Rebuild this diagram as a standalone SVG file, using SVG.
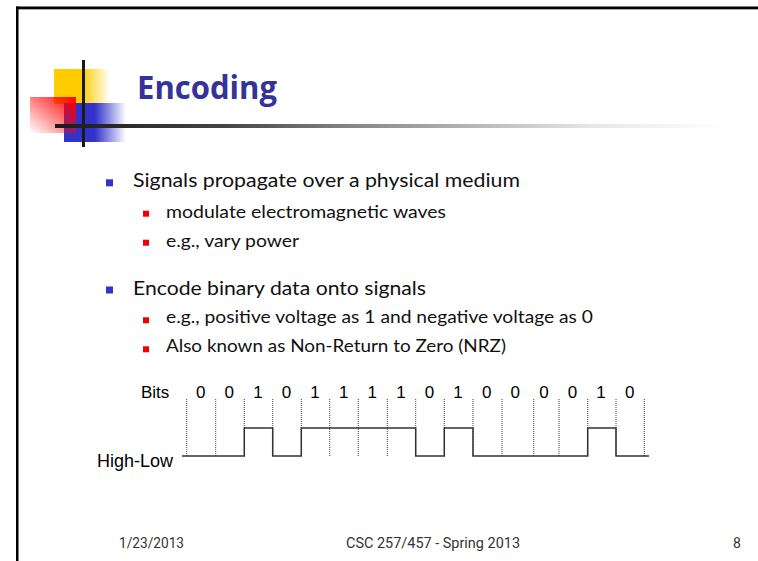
<svg xmlns="http://www.w3.org/2000/svg" width="758" height="561" viewBox="0 0 758 561">
<style>
.body{font-family:Lato,"Open Sans","Noto Sans",sans-serif;fill:#111;}
.b1{font-size:18.5px;}
.b2{font-size:16.8px;}
.foot{font-family:Roboto,"Liberation Sans",sans-serif;font-size:14px;fill:#333;}
.arial{font-family:"Liberation Sans",Arial,sans-serif;fill:#000;}
.dot{stroke:#444;stroke-width:1;stroke-dasharray:1,1;fill:none;}
.wave{stroke:#333;stroke-width:1.5;fill:none;}
.bb{fill:#3333CC;}
.rb{fill:#EE0000;}
</style>
<defs>
<linearGradient id="gY" x1="0" y1="0" x2="1" y2="0">
<stop offset="0" stop-color="#FFCC00"/>
<stop offset="0.5" stop-color="#FFCC00"/>
<stop offset="1" stop-color="#FFCC00" stop-opacity="0"/>
</linearGradient>
<linearGradient id="gB" x1="0" y1="0" x2="1" y2="0">
<stop offset="0" stop-color="#3333CC"/>
<stop offset="0.5" stop-color="#3333CC"/>
<stop offset="1" stop-color="#3333CC" stop-opacity="0"/>
</linearGradient>
<linearGradient id="gR" x1="1" y1="0" x2="0" y2="1">
<stop offset="0" stop-color="#FF0000"/>
<stop offset="1" stop-color="#FF0000" stop-opacity="0"/>
</linearGradient>
<linearGradient id="gL" gradientUnits="userSpaceOnUse" x1="55" y1="0" x2="725" y2="0">
<stop offset="0" stop-color="#1a1a1a"/>
<stop offset="0.25" stop-color="#444"/>
<stop offset="0.45" stop-color="#888"/>
<stop offset="0.8" stop-color="#e6e6e6"/>
<stop offset="1" stop-color="#ffffff"/>
</linearGradient>
</defs>
<rect width="758" height="561" fill="#fff"/>
<g id="border">
<rect x="16" y="6.5" width="742" height="2.5" fill="#000"/>
<rect x="18" y="9" width="740" height="1" fill="#aaa"/>
<rect x="16" y="6.5" width="2.5" height="555" fill="#000"/>
</g>
<g id="logo">
<rect x="54" y="69" width="56" height="35" fill="url(#gY)"/>
<rect x="64" y="103" width="62" height="39" fill="url(#gB)"/>
<rect x="30" y="97" width="46" height="36" fill="url(#gR)"/>
<rect x="82" y="60" width="3" height="87" fill="#1a1a1a"/>
<rect x="55" y="124" width="670" height="4" fill="url(#gL)"/>
</g>
<g id="title">
<text x="137" y="99" font-family="'Open Sans','Noto Sans',sans-serif" font-weight="bold" font-size="32" fill="#333399" textLength="140" lengthAdjust="spacingAndGlyphs">Encoding</text>
</g>
<g id="bullets">
<rect class="bb" x="106" y="179.3" width="7" height="7"/>
<text class="body b1" x="133" y="187" textLength="387" lengthAdjust="spacingAndGlyphs">Signals propagate over a physical medium</text>
<rect class="rb" x="143" y="210.7" width="6" height="6"/>
<text class="body b2" x="166" y="218" textLength="280" lengthAdjust="spacingAndGlyphs">modulate electromagnetic waves</text>
<rect class="rb" x="143" y="239.7" width="6" height="6"/>
<text class="body b2" x="166" y="247" textLength="133" lengthAdjust="spacingAndGlyphs">e.g., vary power</text>
<rect class="bb" x="106" y="286.5" width="7" height="7"/>
<text class="body b1" x="133" y="295" textLength="293" lengthAdjust="spacingAndGlyphs">Encode binary data onto signals</text>
<rect class="rb" x="143" y="317.3" width="6" height="6"/>
<text class="body b2" x="166" y="323" textLength="427" lengthAdjust="spacingAndGlyphs">e.g., positive voltage as 1 and negative voltage as 0</text>
<rect class="rb" x="143" y="346.3" width="6" height="6"/>
<text class="body b2" x="166" y="352" textLength="340" lengthAdjust="spacingAndGlyphs">Also known as Non-Return to Zero (NRZ)</text>
</g>
<g id="labels" class="arial" font-size="17">
<text x="141" y="398">Bits</text>
<text x="97" y="467" font-size="18">High-Low</text>
</g>
<g id="bits" class="arial" font-size="17" text-anchor="middle">
<text x="200.7" y="398">0</text>
<text x="229.3" y="398">0</text>
<text x="257.9" y="398">1</text>
<text x="286.5" y="398">0</text>
<text x="315.1" y="398">1</text>
<text x="343.7" y="398">1</text>
<text x="372.3" y="398">1</text>
<text x="400.9" y="398">1</text>
<text x="429.5" y="398">0</text>
<text x="458.1" y="398">1</text>
<text x="486.7" y="398">0</text>
<text x="515.3" y="398">0</text>
<text x="543.9" y="398">0</text>
<text x="572.5" y="398">0</text>
<text x="601.1" y="398">1</text>
<text x="629.7" y="398">0</text>
</g>
<g id="connectors">
<path class="dot" d="M186.7,399V456M215.7,399V456M244.3,399V456M272.7,399V456M301.3,399V456M329.7,399V456M358.3,399V456M387.3,399V456M415.7,399V456M444.3,399V456M473,399V456M502,399V456M533.7,399V456M559,399V456M587.7,399V456M616,399V456M644.3,399V456"/>
<path class="wave" d="M182,456H244.3V428H272.7V456H301.3V428H415.7V456H444.3V428H473V456H587.7V428H616V456H649"/>
</g>
<g id="footer" class="foot">
<text x="119" y="548" textLength="65" lengthAdjust="spacingAndGlyphs">1/23/2013</text>
<text x="346" y="548" textLength="174" lengthAdjust="spacingAndGlyphs">CSC 257/457 - Spring 2013</text>
<text x="733" y="548">8</text>
</g>
</svg>
